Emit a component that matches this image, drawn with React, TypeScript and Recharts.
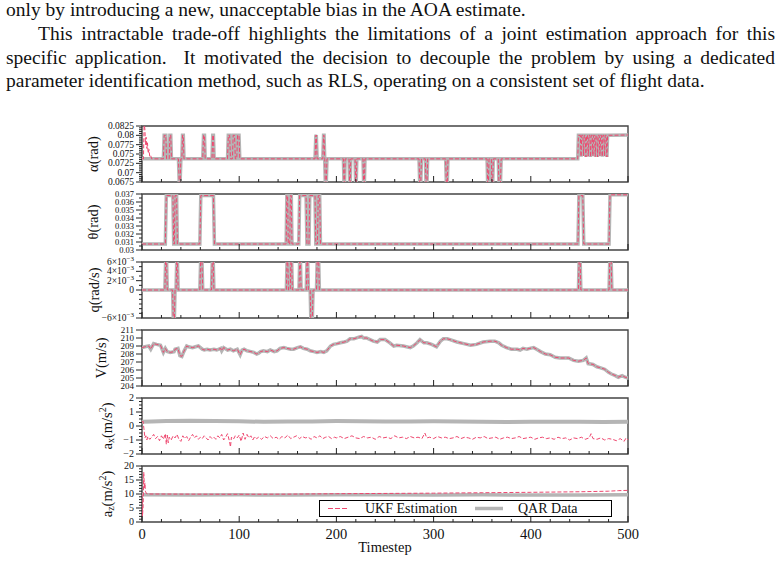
import React from "react";
import { LineChart, Line, XAxis, YAxis, ReferenceArea, Legend } from "recharts";

const SERIF = '"Liberation Serif", "Times New Roman", serif';
const UKF = "#ef476f";
const QAR = "#b5b5b5";
const INK = "#222";

// paragraph above the figure
const paraLines = [
  "only by introducing a new, unacceptable bias in the AOA estimate.",
  "This intractable trade-off highlights the limitations of a joint estimation approach for this",
  "specific application.\u00a0 It motivated the decision to decouple the problem by using a dedicated",
  "parameter identification method, such as RLS, operating on a consistent set of flight data.",
];

// shared x axis
const xMajor = [0, 100, 200, 300, 400, 500];

// α (rad) — QAR steps, UKF has a start-up transient
const alphaQar: [number, number][] = [
  [0, 0.0737], [22, 0.0737], [22.8, 0.08], [24.5, 0.08], [25.3, 0.0737], [28, 0.0737], [28.7, 0.08], [29.6, 0.08], [30.3, 0.0737],
  [37.5, 0.0737], [38.3, 0.0672], [39.2, 0.0672], [40, 0.0737], [41, 0.0737], [41.7, 0.08], [42.5, 0.08], [43.2, 0.0737],
  [62.5, 0.0737], [63.3, 0.08], [64.3, 0.08], [65, 0.0737], [72, 0.0737], [72.8, 0.08], [73.5, 0.08], [74.2, 0.0737],
  [88, 0.0737], [88.8, 0.08], [90.2, 0.08], [91, 0.0737], [93, 0.0737], [93.8, 0.08], [95.2, 0.08], [96, 0.0737],
  [97.5, 0.0737], [98.3, 0.08], [99.8, 0.08], [100.6, 0.0737], [178, 0.0737], [178.8, 0.0798], [179.3, 0.0801], [180.2, 0.0737],
  [186, 0.0737], [186.8, 0.08], [187.3, 0.08], [188, 0.0737], [188.6, 0.0672], [189.6, 0.0672], [190.3, 0.0737],
  [207.2, 0.0737], [207.8, 0.0672], [208.4, 0.0672], [209, 0.0737], [213, 0.0737], [213.6, 0.0672], [214.2, 0.0672], [214.8, 0.0737],
  [219.2, 0.0737], [219.8, 0.0672], [220.4, 0.0672], [221, 0.0737], [227.4, 0.0737], [228, 0.0672], [228.8, 0.0672], [229.4, 0.0737],
  [285, 0.0737], [285.7, 0.0672], [286.8, 0.0672], [287.5, 0.0737], [291.5, 0.0737], [292.2, 0.0672], [293.2, 0.0672], [293.9, 0.0737],
  [312.4, 0.0737], [313.1, 0.0672], [314.1, 0.0672], [314.8, 0.0737],
  [355, 0.0737], [355.6, 0.0672], [356.4, 0.0672], [357, 0.0737], [359.4, 0.0737], [360, 0.0672], [360.8, 0.0672], [361.4, 0.0737],
  [366.5, 0.0737], [367.2, 0.0672], [368.8, 0.0672], [369.5, 0.0737], [448.3, 0.0737], [449, 0.08], [451, 0.08],
  [451.7, 0.0743], [452.4, 0.08], [453.6, 0.08], [454.3, 0.0745], [455, 0.08], [456, 0.08], [456.7, 0.0742], [457.4, 0.08],
  [458.4, 0.08], [459.1, 0.0744], [459.8, 0.08], [460.8, 0.08], [461.5, 0.0742], [462.2, 0.08], [463.2, 0.08], [463.9, 0.0745],
  [464.6, 0.08], [465.6, 0.08], [466.3, 0.0743], [467, 0.08], [468, 0.08], [468.7, 0.0742], [469.4, 0.08], [470.4, 0.08],
  [471.1, 0.0745], [471.8, 0.08], [472.8, 0.08], [473.5, 0.0743], [474.2, 0.08], [475.2, 0.08], [475.9, 0.0744], [476.6, 0.08],
  [477.6, 0.08], [478.3, 0.0742], [479, 0.08], [500, 0.0801],
];
const alphaUkfStart: [number, number][] = [
  [0, 0.0737], [1.5, 0.0737], [2.2, 0.0835], [3, 0.0815], [3.6, 0.0775], [4.2, 0.0795], [5, 0.0765], [5.6, 0.078],
  [6.4, 0.0752], [7.2, 0.0762], [8, 0.0742], [9, 0.0745], [10, 0.0737],
];

// θ (rad)
const thetaQar: [number, number][] = [
  [0, 0.03075], [24, 0.03075], [25, 0.0368], [31.8, 0.0368], [32.6, 0.03075], [33.3, 0.03075], [34, 0.0368], [35.6, 0.0368], [36.4, 0.03075],
  [59.5, 0.03075], [60.5, 0.0368], [73.5, 0.0368], [74.5, 0.03075], [148.3, 0.03075], [149, 0.0368], [149.8, 0.0368], [150.5, 0.03075],
  [152, 0.03075], [152.7, 0.0368], [153.6, 0.0368], [154.3, 0.03075], [161.3, 0.03075], [162.2, 0.0368], [168.8, 0.0368], [169.7, 0.03075],
  [171.8, 0.03075], [172.6, 0.0368], [178, 0.0368], [178.8, 0.03075], [180.5, 0.03075], [181.3, 0.0368], [182.8, 0.0368], [183.6, 0.03075],
  [448.5, 0.03075], [449.5, 0.0368], [453.5, 0.0368], [454.5, 0.03075], [480.5, 0.03075], [481.5, 0.0369], [500, 0.0369],
];

// q (rad/s)
const qQar: [number, number][] = [
  [0, 0], [23.5, 0], [24.3, 0.0061], [25.3, 0.0061], [26, 0], [31.5, 0], [32.2, -0.0065], [33.3, -0.0065], [34, 0],
  [35, 0], [35.7, 0.0061], [36.5, 0.0061], [37.2, 0], [59.5, 0], [60.3, 0.0061], [61.7, 0.0061], [62.5, 0],
  [71.5, 0], [72.3, 0.0061], [73.3, 0.0061], [74, 0], [148.5, 0], [149.2, 0.0061], [150, 0.0061], [150.7, 0],
  [152.5, 0], [153.2, 0.0061], [154, 0.0061], [154.7, 0], [161.5, 0], [162.2, 0.0061], [163, 0.0061], [163.7, 0],
  [169, 0], [169.7, 0.0061], [170.5, 0.0061], [171.2, 0], [173, 0], [173.7, -0.0065], [175.2, -0.0065], [176, 0],
  [179.5, 0], [180.2, 0.0061], [181.8, 0.0061], [182.5, 0], [449, 0], [449.7, 0.0061], [450.8, 0.0061], [451.5, 0],
  [480.5, 0], [481.2, 0.0061], [482.7, 0.0061], [483.4, 0], [500, 0],
];

// V (m/s)
const vQar: [number, number][] = [
  [0, 208.8], [3, 208.9], [7, 209.0], [9, 208.6], [12, 209.3], [15, 209.2], [19, 209.1], [21, 208.5], [22, 208.2], [24, 208.7],
  [26, 208.3], [29, 208.2], [33, 208.3], [34, 208.6], [37, 208.7], [39, 207.8], [41, 207.7], [43, 208.3], [46, 209.0], [48, 208.9],
  [52, 208.8], [55, 208.9], [58, 209.0], [62, 208.6], [64, 208.5], [67, 208.6], [70, 208.5], [74, 208.6], [77, 208.5], [81, 208.7],
  [82, 208.4], [84, 208.8], [88, 208.5], [91, 208.6], [94, 208.4], [98, 208.6], [101, 207.9], [103, 208.5], [105, 208.6], [108, 208.4],
  [112, 208.3], [115, 208.2], [118, 208.0], [120, 208.1], [122, 208.3], [125, 208.4], [129, 208.3], [132, 208.5], [136, 208.3], [139, 208.4],
  [142, 208.7], [146, 208.8], [149, 208.7], [153, 208.6], [156, 208.6], [160, 208.8], [163, 208.9], [166, 208.7], [170, 208.6], [173, 208.4],
  [177, 208.3], [180, 208.2], [184, 208.3], [187, 208.2], [190, 208.4], [194, 209.0], [197, 209.2], [201, 209.3], [204, 209.4], [208, 209.5],
  [211, 209.6], [214, 209.9], [218, 209.9], [223, 210.1], [226, 210.2], [228, 210.0], [231, 210.0], [238, 209.6], [242, 209.5], [245, 209.8],
  [250, 209.8], [255, 209.4], [259, 209.0], [262, 209.1], [269, 209.0], [276, 208.8], [279, 209.0], [283, 209.4], [286, 209.8], [290, 209.4],
  [293, 209.4], [298, 209.2], [303, 208.9], [307, 209.6], [310, 209.9], [314, 209.9], [317, 209.8], [324, 209.5], [331, 209.3], [338, 209.1],
  [344, 209.2], [351, 209.5], [358, 209.6], [363, 209.6], [367, 209.4], [370, 209.1], [375, 208.8], [380, 208.6], [386, 208.6], [389, 208.5],
  [392, 208.7], [396, 208.6], [399, 208.7], [403, 208.8], [406, 208.6], [410, 208.3], [415, 208.0], [420, 207.9], [425, 207.6], [430, 207.5],
  [435, 207.5], [439, 207.5], [444, 207.2], [449, 207.1], [454, 207.2], [457, 207.5], [459, 206.8], [464, 206.7], [468, 206.4], [471, 206.3],
  [476, 206.1], [480, 205.7], [483, 205.5], [487, 205.3], [490, 205.1], [494, 205.3], [497, 205.1], [500, 205.0],
];

// a_x (m/s^2)
const axQar: [number, number][] = [
  [0, 0.3], [10, 0.33], [25, 0.36], [50, 0.38], [75, 0.36], [100, 0.34], [125, 0.3], [150, 0.32], [175, 0.33], [200, 0.35], [225, 0.34],
  [250, 0.33], [275, 0.32], [300, 0.34], [325, 0.33], [350, 0.3], [375, 0.29], [400, 0.3], [425, 0.31], [450, 0.3], [475, 0.28], [500, 0.3],
];
const axUkf: [number, number][] = [
  [0, 0.3], [1, 0.35], [2, -0.2], [3, -0.85], [4, -0.7], [5, -1.0], [6, -0.75], [8, -0.95], [10, -0.8], [12, -0.6], [14, -0.9], [16, -0.75],
  [18, -1.05], [20, -0.7], [22, -0.95], [24, -0.55], [25, -1.3], [26, -0.65], [27, -1.2], [28, -0.8], [30, -1.0], [32, -0.7], [34, -0.85],
  [36, -0.6], [38, -0.95], [40, -1.1], [42, -0.7], [44, -0.9], [46, -0.75], [48, -1.05], [50, -0.8], [52, -0.6], [54, -0.85], [56, -0.7],
  [58, -0.95], [60, -0.8], [62, -0.9], [64, -0.7], [66, -0.85], [68, -1.0], [70, -0.75], [72, -0.9], [74, -0.8], [76, -0.95], [78, -0.7],
  [80, -0.85], [82, -0.6], [84, -1.0], [86, -0.8], [88, -0.55], [90, -1.1], [91, -1.5], [92, -0.8], [94, -0.95], [96, -0.7], [98, -0.85],
  [100, -0.65], [102, -1.1], [104, -0.5], [106, -0.95], [108, -0.6], [110, -0.85], [112, -0.7], [114, -1.0], [116, -0.75], [118, -0.9],
  [120, -0.8], [123, -0.95], [126, -0.75], [129, -0.85], [132, -0.7], [135, -0.9], [138, -0.8], [141, -0.95], [144, -0.75], [147, -0.85],
  [150, -0.65], [153, -0.9], [156, -0.8], [159, -0.7], [162, -0.9], [165, -0.75], [168, -0.85], [171, -0.8], [174, -0.95], [177, -0.75],
  [180, -0.85], [183, -0.7], [186, -0.9], [189, -0.8], [192, -0.75], [195, -0.9], [198, -0.8], [200, -0.85], [204, -0.75], [208, -0.9],
  [212, -0.8], [216, -0.7], [220, -0.85], [224, -0.9], [228, -0.75], [232, -0.85], [236, -0.8], [240, -0.95], [244, -0.75], [248, -0.85],
  [252, -0.8], [256, -0.9], [260, -0.7], [264, -0.85], [268, -0.8], [272, -0.9], [276, -0.75], [280, -0.85], [284, -0.8], [288, -0.9],
  [291, -0.5], [293, -0.85], [296, -0.8], [300, -0.9], [304, -0.75], [308, -0.85], [312, -0.8], [316, -0.9], [320, -0.85], [324, -0.75],
  [328, -0.9], [332, -0.8], [336, -0.85], [340, -0.95], [344, -0.8], [348, -0.85], [352, -0.75], [356, -0.9], [360, -0.85], [364, -0.8],
  [368, -0.95], [372, -0.85], [376, -0.8], [380, -0.9], [384, -0.85], [388, -0.75], [392, -0.9], [396, -0.85], [400, -0.8], [404, -0.95],
  [408, -0.85], [412, -0.8], [416, -0.9], [420, -0.85], [424, -0.95], [428, -0.8], [432, -0.9], [436, -0.85], [440, -1.0], [444, -0.85],
  [448, -0.9], [452, -0.8], [456, -0.95], [460, -0.85], [462, -0.55], [464, -0.9], [468, -0.95], [472, -0.85], [476, -1.0], [480, -0.9],
  [484, -0.95], [488, -1.05], [492, -0.9], [496, -1.1], [498, -0.85], [500, -1.0],
];

// a_z (m/s^2)
const azQar: [number, number][] = [
  [0, 9.7], [50, 9.6], [100, 9.7], [150, 9.6], [200, 9.7], [250, 9.7], [300, 9.6], [350, 9.7], [400, 9.6], [450, 9.6], [500, 9.7],
];
const azUkf: [number, number][] = [
  [0, 9.8], [0.5, 2], [1.2, 6], [1.8, 17.8], [2.5, 12], [3, 14], [3.5, 11], [4.5, 10.2], [6, 10], [50, 9.95], [100, 9.9], [150, 9.95],
  [200, 10.1], [250, 10.2], [300, 10.3], [350, 10.45], [400, 10.6], [450, 10.8], [480, 11.0], [490, 11.2], [500, 11.3],
];

// y tick majors and their labels
const alphaMajor = [0.0675, 0.07, 0.0725, 0.075, 0.0775, 0.08, 0.0825];
const alphaLabels = ["0.0675", "0.07", "0.0725", "0.075", "0.0775", "0.08", "0.0825"];
const thetaMajor = [0.03, 0.031, 0.032, 0.033, 0.034, 0.035, 0.036, 0.037];
const thetaLabels = ["0.03", "0.031", "0.032", "0.033", "0.034", "0.035", "0.036", "0.037"];
const qMajor = [-0.006, 0, 0.002, 0.004, 0.006];
const qLabels = ["\u22126", "0", "2", "4", "6"];
const vMajor = [204, 205, 206, 207, 208, 209, 210, 211];
const vLabels = ["204", "205", "206", "207", "208", "209", "210", "211"];
const axMajor = [-2, -1, 0, 1, 2];
const axLabels = ["\u22122", "\u22121", "0", "1", "2"];
const azMajor = [0, 5, 10, 15, 20];
const azLabels = ["0", "5", "10", "15", "20"];

function steps(lo: number, hi: number, step: number) {
  const out: number[] = [];
  const n = Math.round((hi - lo) / step);
  for (let i = 0; i <= n; i++) out.push(+(lo + i * step).toFixed(6));
  return out;
}

const toPts = (arr: [number, number][]) => arr.map(([t, v]) => ({ t, v }));

function makeYTick(major: number[], labels: string[], sci: boolean, fs: number) {
  return (props: any) => {
    const { x, y, payload } = props;
    const i = major.findIndex((m) => Math.abs(m - payload.value) < 1e-9);
    const len = i >= 0 ? 6 : 3;
    const lab = i >= 0 ? labels[i] : null;
    return (
      <g>
        <line x1={x - len} x2={x} y1={y} y2={y} stroke={INK} strokeWidth={1} />
        {lab != null && (
          <text x={x - 8} y={y + fs * 0.33} textAnchor="end" fontSize={fs} fill="#111" fontFamily={SERIF}>
            {sci && lab !== "0" ? (
              <>
                {lab}×10<tspan dy={-4} fontSize={7}>{"\u22123"}</tspan>
              </>
            ) : (
              lab
            )}
          </text>
        )}
      </g>
    );
  };
}

function makeXTick(showLabel: boolean) {
  return (props: any) => {
    const { x, y, payload } = props;
    const major = xMajor.includes(payload.value);
    return (
      <g>
        <line x1={x} x2={x} y1={y} y2={y - (major ? 6 : 3)} stroke={INK} strokeWidth={1} />
        {showLabel && major && (
          <text x={x} y={y + 17} textAnchor="middle" fontSize={14.5} fill="#111" fontFamily={SERIF}>
            {payload.value}
          </text>
        )}
      </g>
    );
  };
}

function YLabel({ viewBox, cx, kind, text }: any) {
  const cy = viewBox.y + viewBox.height / 2;
  return (
    <text
      x={cx}
      y={cy}
      transform={`rotate(-90 ${cx} ${cy})`}
      textAnchor="middle"
      dominantBaseline="central"
      fontSize={14.5}
      fill="#111"
      fontFamily={SERIF}
    >
      {kind === "acc" ? (
        <>
          a<tspan dy={3} fontSize={10}>{text}</tspan>
          <tspan dy={-3}>(m/s</tspan>
          <tspan dy={-5} fontSize={10}>2</tspan>
          <tspan dy={5}>)</tspan>
        </>
      ) : (
        text
      )}
    </text>
  );
}

function LegendBox() {
  return (
    <svg width={293} height={17} style={{ display: "block" }}>
      <rect x={0.5} y={0.5} width={292} height={16} fill="#fff" stroke="#000" strokeWidth={1} />
      <line x1={9} x2={29} y1={8.5} y2={8.5} stroke={UKF} strokeWidth={1} strokeDasharray="5 2" />
      <text x={46} y={13} fontSize={14} fill="#111" fontFamily={SERIF}>UKF Estimation</text>
      <line x1={156} x2={184} y1={8.5} y2={8.5} stroke={QAR} strokeWidth={3.5} />
      <text x={199} y={13} fontSize={14} fill="#111" fontFamily={SERIF}>QAR Data</text>
    </svg>
  );
}

interface PanelProps {
  top: number;
  domain: [number, number];
  major: number[];
  labels: string[];
  minorStep: number;
  fs: number;
  sci?: boolean;
  labelX: number;
  labelKind?: string;
  labelText: string;
  qar: [number, number][];
  ukf: [number, number][];
  qarWidth?: number;
  last?: boolean;
}

const xTicks = steps(0, 500, 20);

function Panel(p: PanelProps) {
  const last = !!p.last;
  const h = last ? 98 : 68;
  const yTicks = steps(p.domain[0], p.domain[1], p.minorStep);
  return (
    <div style={{ position: "absolute", left: 0, top: p.top - 6 }}>
      <LineChart width={778} height={h} margin={{ top: 6, right: 150, bottom: last ? 4 : 5, left: 82 }}>
        <XAxis
          type="number"
          dataKey="t"
          domain={[0, 500]}
          allowDataOverflow
          ticks={xTicks}
          interval={0}
          tickLine={false}
          axisLine={false}
          tickSize={0}
          tickMargin={0}
          height={last ? 32 : 1}
          tick={makeXTick(last)}
          label={
            last
              ? { value: "Timestep", position: "insideBottom", offset: 2, fontSize: 14.5, fill: "#111", fontFamily: SERIF }
              : undefined
          }
        />
        <YAxis
          type="number"
          domain={p.domain}
          allowDataOverflow
          ticks={yTicks}
          interval={0}
          tickLine={false}
          axisLine={false}
          tickSize={0}
          tickMargin={0}
          width={60}
          tick={makeYTick(p.major, p.labels, !!p.sci, p.fs)}
          label={{
            position: "center",
            content: (lp: any) => <YLabel viewBox={lp.viewBox} cx={p.labelX} kind={p.labelKind} text={p.labelText} />,
          }}
        />
        <ReferenceArea
          x1={0}
          x2={500}
          y1={p.domain[0]}
          y2={p.domain[1]}
          fill="none"
          stroke="#444"
          strokeWidth={1.4}
          ifOverflow="visible"
        />
        <Line
          data={toPts(p.qar)}
          dataKey="v"
          type="linear"
          stroke={QAR}
          strokeWidth={p.qarWidth ?? 3.5}
          dot={false}
          isAnimationActive={false}
        />
        <Line
          data={toPts(p.ukf)}
          dataKey="v"
          type="linear"
          stroke={UKF}
          strokeWidth={1}
          strokeDasharray="4 2"
          dot={false}
          isAnimationActive={false}
        />
        {last && (
          <Legend
            layout="horizontal"
            verticalAlign="middle"
            align="center"
            wrapperStyle={{ left: 319, top: 40, width: 293, height: 17 }}
            content={() => <LegendBox />}
          />
        )}
      </LineChart>
    </div>
  );
}

export default function App() {
  const alphaUkf = [...alphaUkfStart, ...alphaQar.filter(([t]) => t > 10)];
  return (
    <div
      style={{
        position: "absolute",
        left: 0,
        top: 0,
        width: 778,
        height: 564,
        background: "#fff",
        overflow: "hidden",
        fontFamily: SERIF,
        color: "#111",
      }}
    >
      {paraLines.map((line, i) => (
        <div
          key={i}
          style={{
            position: "absolute",
            left: i === 1 ? 38 : 6,
            top: i * 23.8,
            width: i === 1 ? 737 : 769,
            fontSize: 19.5,
            lineHeight: "20px",
            whiteSpace: "nowrap",
            textAlign: "justify",
            textAlignLast: i === 1 || i === 2 ? "justify" : "left",
          }}
        >
          {line}
        </div>
      ))}
      <Panel top={126} domain={[0.0675, 0.0825]} major={alphaMajor} labels={alphaLabels} minorStep={0.0005} fs={9.5}
        labelX={93} labelText={"\u03b1(rad)"} qar={alphaQar} ukf={alphaUkf} />
      <Panel top={194} domain={[0.03, 0.037]} major={thetaMajor} labels={thetaLabels} minorStep={0.0005} fs={8.5}
        labelX={93} labelText={"\u03b8(rad)"} qar={thetaQar} ukf={thetaQar} />
      <Panel top={262} domain={[-0.006, 0.006]} major={qMajor} labels={qLabels} minorStep={0.001} fs={9.5} sci
        labelX={94} labelText="q(rad/s)" qar={qQar} ukf={qQar} />
      <Panel top={330} domain={[204, 211]} major={vMajor} labels={vLabels} minorStep={1} fs={9}
        labelX={100.5} labelText="V(m/s)" qar={vQar} ukf={vQar} />
      <Panel top={398} domain={[-2, 2]} major={axMajor} labels={axLabels} minorStep={0.25} fs={10}
        labelX={107} labelKind="acc" labelText="x" qar={axQar} ukf={axUkf} qarWidth={4} />
      <Panel top={466} domain={[0, 20]} major={azMajor} labels={azLabels} minorStep={1} fs={10}
        labelX={107} labelKind="acc" labelText="z" qar={azQar} ukf={azUkf} last />
    </div>
  );
}
